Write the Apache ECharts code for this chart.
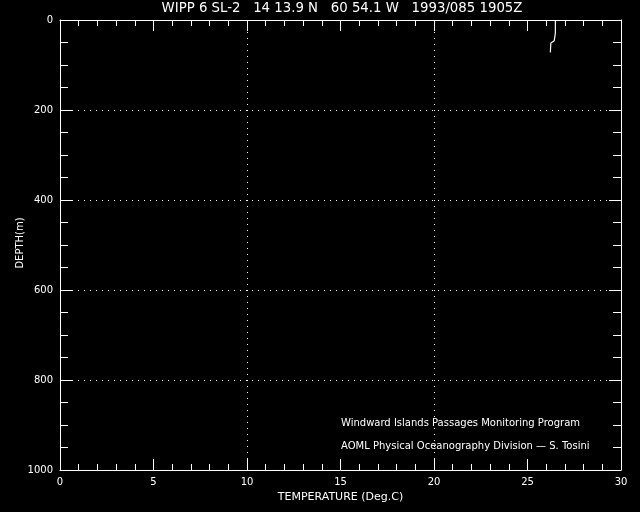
<!DOCTYPE html>
<html><head><meta charset="utf-8">
<script src="https://cdn.jsdelivr.net/npm/echarts@6/dist/echarts.min.js"></script>
<style>html,body{margin:0;padding:0;background:#000;}#c{width:640px;height:512px;}</style>
</head><body><div id="c"></div>
<script>
const titleText = 'WIPP 6 SL-2   14 13.9 N   60 54.1 W   1993/085 1905Z';
const xName = 'TEMPERATURE (Deg.C)';
const yName = 'DEPTH(m)';
const credit1 = 'Windward Islands Passages Monitoring Program';
const credit2 = 'AOML Physical Oceanography Division \u2014 S. Tosini';
const temperature = [26.49, 26.49, 26.45, 26.43, 26.35, 26.25, 26.22, 26.22];
const depth =       [0,     29,    31,    46,    49,    51,    53,    72];

const font = 'DejaVu Sans';
const white = '#ffffff';
const chart = echarts.init(document.getElementById('c'), null, {renderer: 'canvas'});
function xAx(pos, labels) {
  return {
    type: 'value', min: 0, max: 30, interval: 5, position: pos,
    name: labels ? xName : '', nameLocation: 'middle', nameGap: 21,
    nameTextStyle: {color: white, fontFamily: font, fontSize: 11},
    axisLine: {show: true, onZero: false, lineStyle: {color: white, width: 1}},
    axisTick: {show: true, inside: true, length: 11, lineStyle: {color: white}},
    minorTick: {show: true, splitNumber: 5, length: 6, lineStyle: {color: white}},
    axisLabel: {show: labels, color: white, fontFamily: font, fontSize: 10, margin: 7},
    splitLine: {show: false},
  };
}
function yAx(pos, labels) {
  return {
    type: 'value', min: 0, max: 1000, interval: 200, inverse: true, position: pos,
    axisLine: {show: true, onZero: false, lineStyle: {color: white, width: 1}},
    axisTick: {show: true, inside: true, length: 12, lineStyle: {color: white}},
    minorTick: {show: true, splitNumber: 4, length: 8, lineStyle: {color: white}},
    axisLabel: {show: labels, color: white, fontFamily: font, fontSize: 10, margin: 7,
                formatter: v => String(v)},
    splitLine: {show: labels, lineStyle: {color: white, type: [1, 5], width: 1}},
  };
}
const gridX = {
  type: 'value', min: 0, max: 30, interval: 10, position: 'bottom',
  axisLine: {show: false, onZero: false}, axisTick: {show: false}, axisLabel: {show: false},
  splitLine: {show: true, lineStyle: {color: white, type: [1, 5], width: 1}}
};
chart.setOption({
  backgroundColor: '#000',
  animation: false,
  grid: {left: 60, right: 19, top: 20, bottom: 42},
  xAxis: [xAx('bottom', true), xAx('top', false), gridX],
  yAxis: [yAx('left', true), yAx('right', false)],
  series: [{
    type: 'line', xAxisIndex: 0, yAxisIndex: 0, showSymbol: false,
    lineStyle: {color: white, width: 1.2},
    data: temperature.map((t, i) => [t, depth[i]])
  }],
  graphic: [
    {type: 'text', style: {text: titleText, x: 342, y: 9, fill: white, font: '13.3px "' + font + '"', align: 'center', verticalAlign: 'middle'}},
    {type: 'text', x: 20, y: 243, rotation: Math.PI / 2, style: {text: yName, x: 0, y: 0, fill: white, font: '10px "' + font + '"', align: 'center', verticalAlign: 'middle'}},
    {type: 'text', style: {text: credit1, x: 341, y: 423, fill: white, font: '10px "' + font + '"', align: 'left', verticalAlign: 'middle'}},
    {type: 'text', style: {text: credit2, x: 341, y: 446, fill: white, font: '10px "' + font + '"', align: 'left', verticalAlign: 'middle'}}
  ]
});
</script></body></html>
